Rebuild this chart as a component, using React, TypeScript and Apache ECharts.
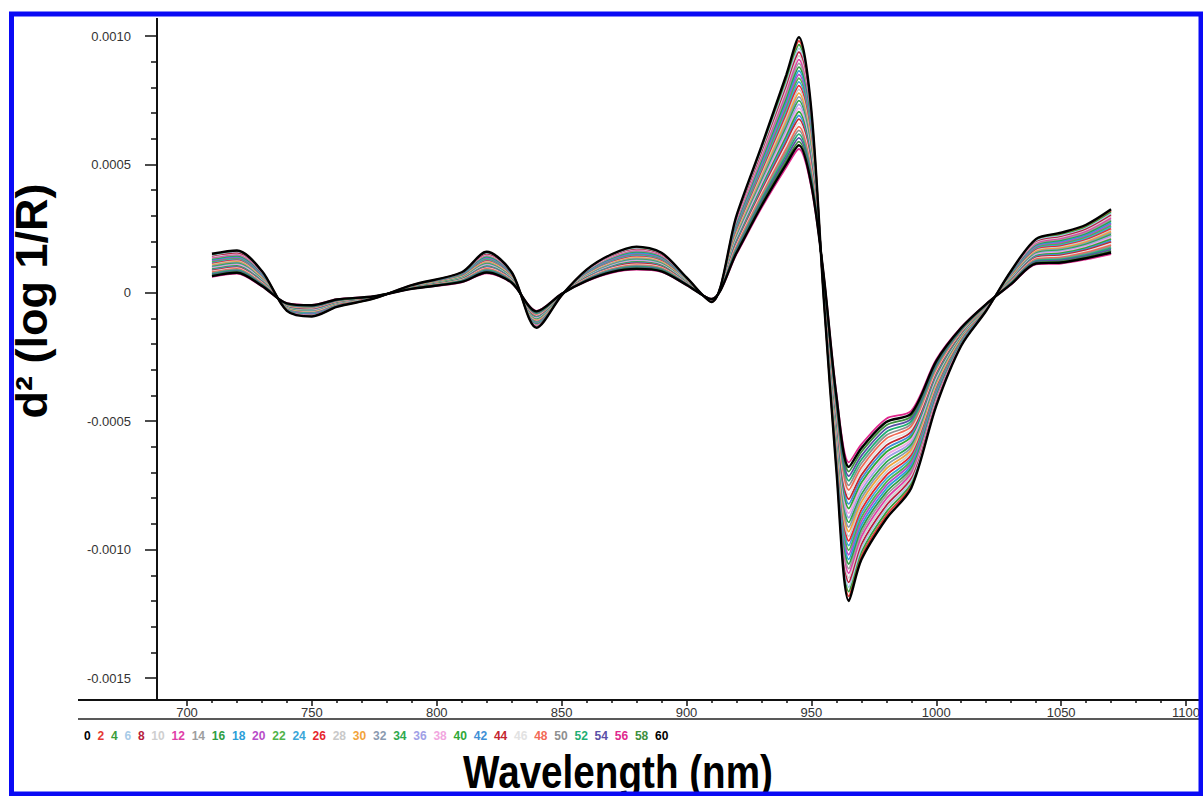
import React, { useEffect, useRef } from "react";
import * as echarts from "echarts";

// Wavelength grid (nm) shared by every spectrum
const wavelengths = [710, 720, 730, 740, 750, 760, 775, 790, 810, 820, 830, 840, 850, 860, 870, 880, 890, 900, 910, 920, 930, 940, 945, 950, 955, 960, 965, 970, 980, 990, 1000, 1010, 1020, 1030, 1040, 1050, 1060, 1070];

// Second-derivative spectra, in units of 1e-4 d²(log 1/R), one array per sampling time
const s0 = [1.52, 1.65, 0.85, -0.70, -0.92, -0.55, -0.22, 0.30, 0.80, 1.60, 0.80, -1.36, -0.10, 0.90, 1.50, 1.80, 1.56, 0.60, -0.36, 3.00, 5.70, 8.50, 9.95, 7.10, -0.30, -6.90, -12.00, -10.40, -8.80, -7.60, -4.40, -2.06, -0.70, 0.86, 2.10, 2.34, 2.65, 3.25];
const s2 = [1.49, 1.62, 0.83, -0.69, -0.905, -0.54, -0.217, 0.295, 0.787, 1.572, 0.786, -1.338, -0.098, 0.885, 1.476, 1.77, 1.535, 0.59, -0.356, 2.95, 5.62, 8.38, 9.805, 7.0, -0.268, -6.8, -11.82, -10.25, -8.67, -7.5, -4.34, -2.036, -0.691, 0.842, 2.067, 2.3, 2.605, 3.192];
const s4 = [1.46, 1.59, 0.81, -0.68, -0.89, -0.53, -0.214, 0.29, 0.774, 1.544, 0.772, -1.316, -0.096, 0.87, 1.452, 1.74, 1.51, 0.58, -0.352, 2.9, 5.54, 8.26, 9.66, 6.9, -0.236, -6.7, -11.64, -10.1, -8.54, -7.4, -4.28, -2.012, -0.682, 0.824, 2.034, 2.26, 2.56, 3.134];
const s6 = [1.43, 1.56, 0.79, -0.67, -0.875, -0.52, -0.211, 0.285, 0.761, 1.516, 0.758, -1.294, -0.094, 0.855, 1.428, 1.71, 1.485, 0.57, -0.348, 2.85, 5.46, 8.14, 9.515, 6.8, -0.204, -6.6, -11.46, -9.95, -8.41, -7.3, -4.22, -1.988, -0.673, 0.806, 2.001, 2.22, 2.515, 3.076];
const s8 = [1.40, 1.53, 0.77, -0.66, -0.86, -0.51, -0.208, 0.28, 0.748, 1.488, 0.744, -1.272, -0.092, 0.84, 1.404, 1.68, 1.46, 0.56, -0.344, 2.8, 5.38, 8.02, 9.37, 6.7, -0.172, -6.5, -11.28, -9.8, -8.28, -7.2, -4.16, -1.964, -0.664, 0.788, 1.968, 2.18, 2.47, 3.018];
const s10 = [1.37, 1.50, 0.75, -0.65, -0.845, -0.50, -0.205, 0.275, 0.735, 1.46, 0.73, -1.25, -0.09, 0.825, 1.38, 1.65, 1.435, 0.55, -0.34, 2.75, 5.3, 7.9, 9.225, 6.6, -0.14, -6.4, -11.1, -9.65, -8.15, -7.1, -4.1, -1.94, -0.655, 0.77, 1.935, 2.14, 2.425, 2.96];
const s12 = [1.34, 1.47, 0.73, -0.64, -0.83, -0.49, -0.202, 0.27, 0.722, 1.432, 0.716, -1.228, -0.088, 0.81, 1.356, 1.62, 1.41, 0.54, -0.336, 2.7, 5.22, 7.78, 9.08, 6.5, -0.108, -6.3, -10.92, -9.5, -8.02, -7.0, -4.04, -1.916, -0.646, 0.752, 1.902, 2.1, 2.38, 2.902];
const s14 = [1.31, 1.44, 0.71, -0.63, -0.815, -0.48, -0.199, 0.265, 0.709, 1.404, 0.702, -1.206, -0.086, 0.795, 1.332, 1.59, 1.385, 0.53, -0.332, 2.65, 5.14, 7.66, 8.935, 6.4, -0.076, -6.2, -10.74, -9.35, -7.89, -6.9, -3.98, -1.892, -0.637, 0.734, 1.869, 2.06, 2.335, 2.844];
const s16 = [1.28, 1.41, 0.69, -0.62, -0.80, -0.47, -0.196, 0.26, 0.696, 1.376, 0.688, -1.184, -0.084, 0.78, 1.308, 1.56, 1.36, 0.52, -0.328, 2.6, 5.06, 7.54, 8.79, 6.3, -0.044, -6.1, -10.56, -9.2, -7.76, -6.8, -3.92, -1.868, -0.628, 0.716, 1.836, 2.02, 2.29, 2.786];
const s18 = [1.25, 1.38, 0.67, -0.61, -0.785, -0.46, -0.193, 0.255, 0.683, 1.348, 0.674, -1.162, -0.082, 0.765, 1.284, 1.53, 1.335, 0.51, -0.324, 2.55, 4.98, 7.42, 8.645, 6.2, -0.012, -6.0, -10.38, -9.05, -7.63, -6.7, -3.86, -1.844, -0.619, 0.698, 1.803, 1.98, 2.245, 2.728];
const s20 = [1.22, 1.35, 0.65, -0.60, -0.77, -0.45, -0.19, 0.25, 0.67, 1.32, 0.66, -1.14, -0.08, 0.75, 1.26, 1.5, 1.31, 0.5, -0.32, 2.5, 4.9, 7.3, 8.5, 6.1, 0.02, -5.9, -10.2, -8.9, -7.5, -6.6, -3.8, -1.82, -0.61, 0.68, 1.77, 1.94, 2.2, 2.67];
const s22 = [1.19, 1.32, 0.63, -0.59, -0.755, -0.44, -0.187, 0.245, 0.657, 1.292, 0.646, -1.118, -0.078, 0.735, 1.236, 1.47, 1.285, 0.49, -0.316, 2.45, 4.82, 7.18, 8.355, 6.0, 0.052, -5.8, -10.02, -8.75, -7.37, -6.5, -3.74, -1.796, -0.601, 0.662, 1.737, 1.9, 2.155, 2.612];
const s24 = [1.16, 1.29, 0.61, -0.58, -0.74, -0.43, -0.184, 0.24, 0.644, 1.264, 0.632, -1.096, -0.076, 0.72, 1.212, 1.44, 1.26, 0.48, -0.312, 2.4, 4.74, 7.06, 8.21, 5.9, 0.084, -5.7, -9.84, -8.6, -7.24, -6.4, -3.68, -1.772, -0.592, 0.644, 1.704, 1.86, 2.11, 2.554];
const s26 = [1.13, 1.26, 0.59, -0.57, -0.725, -0.42, -0.181, 0.235, 0.631, 1.236, 0.618, -1.074, -0.074, 0.705, 1.188, 1.41, 1.235, 0.47, -0.308, 2.35, 4.66, 6.94, 8.065, 5.8, 0.116, -5.6, -9.66, -8.45, -7.11, -6.3, -3.62, -1.748, -0.583, 0.626, 1.671, 1.82, 2.065, 2.496];
const s28 = [1.10, 1.23, 0.57, -0.56, -0.71, -0.41, -0.178, 0.23, 0.618, 1.208, 0.604, -1.052, -0.072, 0.69, 1.164, 1.38, 1.21, 0.46, -0.304, 2.3, 4.58, 6.82, 7.92, 5.7, 0.148, -5.5, -9.48, -8.3, -6.98, -6.2, -3.56, -1.724, -0.574, 0.608, 1.638, 1.78, 2.02, 2.438];
const s30 = [1.07, 1.20, 0.55, -0.55, -0.695, -0.40, -0.175, 0.225, 0.605, 1.18, 0.59, -1.03, -0.07, 0.675, 1.14, 1.35, 1.185, 0.45, -0.30, 2.25, 4.5, 6.7, 7.775, 5.6, 0.18, -5.4, -9.3, -8.15, -6.85, -6.1, -3.5, -1.7, -0.565, 0.59, 1.605, 1.74, 1.975, 2.38];
const s32 = [1.04, 1.17, 0.53, -0.54, -0.68, -0.39, -0.172, 0.22, 0.592, 1.152, 0.576, -1.008, -0.068, 0.66, 1.116, 1.32, 1.16, 0.44, -0.296, 2.2, 4.42, 6.58, 7.63, 5.5, 0.212, -5.3, -9.12, -8.0, -6.72, -6.0, -3.44, -1.676, -0.556, 0.572, 1.572, 1.7, 1.93, 2.322];
const s34 = [1.01, 1.14, 0.51, -0.53, -0.665, -0.38, -0.169, 0.215, 0.579, 1.124, 0.562, -0.986, -0.066, 0.645, 1.092, 1.29, 1.135, 0.43, -0.292, 2.15, 4.34, 6.46, 7.485, 5.4, 0.244, -5.2, -8.94, -7.85, -6.59, -5.9, -3.38, -1.652, -0.547, 0.554, 1.539, 1.66, 1.885, 2.264];
const s36 = [0.98, 1.11, 0.49, -0.52, -0.65, -0.37, -0.166, 0.21, 0.566, 1.096, 0.548, -0.964, -0.064, 0.63, 1.068, 1.26, 1.11, 0.42, -0.288, 2.1, 4.26, 6.34, 7.34, 5.3, 0.276, -5.1, -8.76, -7.7, -6.46, -5.8, -3.32, -1.628, -0.538, 0.536, 1.506, 1.62, 1.84, 2.206];
const s38 = [0.95, 1.08, 0.47, -0.51, -0.635, -0.36, -0.163, 0.205, 0.553, 1.068, 0.534, -0.942, -0.062, 0.615, 1.044, 1.23, 1.085, 0.41, -0.284, 2.05, 4.18, 6.22, 7.195, 5.2, 0.308, -5.0, -8.58, -7.55, -6.33, -5.7, -3.26, -1.604, -0.529, 0.518, 1.473, 1.58, 1.795, 2.148];
const s40 = [0.92, 1.05, 0.45, -0.50, -0.62, -0.35, -0.16, 0.20, 0.54, 1.04, 0.52, -0.92, -0.06, 0.60, 1.02, 1.2, 1.06, 0.4, -0.28, 2.0, 4.1, 6.1, 7.05, 5.1, 0.34, -4.9, -8.4, -7.4, -6.2, -5.6, -3.2, -1.58, -0.52, 0.5, 1.44, 1.54, 1.75, 2.09];
const s42 = [0.89, 1.02, 0.43, -0.49, -0.605, -0.34, -0.157, 0.195, 0.527, 1.012, 0.506, -0.898, -0.058, 0.585, 0.996, 1.17, 1.035, 0.39, -0.276, 1.95, 4.02, 5.98, 6.905, 5.0, 0.372, -4.8, -8.22, -7.25, -6.07, -5.5, -3.14, -1.556, -0.511, 0.482, 1.407, 1.5, 1.705, 2.032];
const s44 = [0.86, 0.99, 0.41, -0.48, -0.59, -0.33, -0.154, 0.19, 0.514, 0.984, 0.492, -0.876, -0.056, 0.57, 0.972, 1.14, 1.01, 0.38, -0.272, 1.9, 3.94, 5.86, 6.76, 4.9, 0.404, -4.7, -8.04, -7.1, -5.94, -5.4, -3.08, -1.532, -0.502, 0.464, 1.374, 1.46, 1.66, 1.974];
const s46 = [0.83, 0.96, 0.39, -0.47, -0.575, -0.32, -0.151, 0.185, 0.501, 0.956, 0.478, -0.854, -0.054, 0.555, 0.948, 1.11, 0.985, 0.37, -0.268, 1.85, 3.86, 5.74, 6.615, 4.8, 0.436, -4.6, -7.86, -6.95, -5.81, -5.3, -3.02, -1.508, -0.493, 0.446, 1.341, 1.42, 1.615, 1.916];
const s48 = [0.80, 0.93, 0.37, -0.46, -0.56, -0.31, -0.148, 0.18, 0.488, 0.928, 0.464, -0.832, -0.052, 0.54, 0.924, 1.08, 0.96, 0.36, -0.264, 1.8, 3.78, 5.62, 6.47, 4.7, 0.468, -4.5, -7.68, -6.8, -5.68, -5.2, -2.96, -1.484, -0.484, 0.428, 1.308, 1.38, 1.57, 1.858];
const s50 = [0.77, 0.90, 0.35, -0.45, -0.545, -0.30, -0.145, 0.175, 0.475, 0.90, 0.45, -0.81, -0.05, 0.525, 0.90, 1.05, 0.935, 0.35, -0.26, 1.75, 3.7, 5.5, 6.325, 4.6, 0.5, -4.4, -7.5, -6.65, -5.55, -5.1, -2.9, -1.46, -0.475, 0.41, 1.275, 1.34, 1.525, 1.8];
const s52 = [0.74, 0.87, 0.33, -0.44, -0.53, -0.29, -0.142, 0.17, 0.462, 0.872, 0.436, -0.788, -0.048, 0.51, 0.876, 1.02, 0.91, 0.34, -0.256, 1.7, 3.62, 5.38, 6.18, 4.5, 0.532, -4.3, -7.32, -6.5, -5.42, -5.0, -2.84, -1.436, -0.466, 0.392, 1.242, 1.3, 1.48, 1.742];
const s54 = [0.71, 0.84, 0.31, -0.43, -0.515, -0.28, -0.139, 0.165, 0.449, 0.844, 0.422, -0.766, -0.046, 0.495, 0.852, 0.99, 0.885, 0.33, -0.252, 1.65, 3.54, 5.26, 6.035, 4.4, 0.564, -4.2, -7.14, -6.35, -5.29, -4.9, -2.78, -1.412, -0.457, 0.374, 1.209, 1.26, 1.435, 1.684];
const s56 = [0.62, 0.75, 0.25, -0.40, -0.47, -0.25, -0.13, 0.15, 0.41, 0.76, 0.38, -0.70, -0.04, 0.45, 0.78, 0.90, 0.81, 0.30, -0.24, 1.50, 3.30, 4.90, 5.60, 4.10, 0.66, -3.90, -6.60, -5.90, -4.90, -4.60, -2.60, -1.34, -0.43, 0.32, 1.11, 1.14, 1.30, 1.51];
const s58 = [0.68, 0.81, 0.29, -0.42, -0.50, -0.27, -0.136, 0.16, 0.436, 0.816, 0.408, -0.744, -0.044, 0.48, 0.828, 0.96, 0.86, 0.32, -0.248, 1.6, 3.46, 5.14, 5.89, 4.3, 0.596, -4.1, -6.96, -6.2, -5.16, -4.8, -2.72, -1.388, -0.448, 0.356, 1.176, 1.22, 1.39, 1.626];
const s60 = [0.65, 0.78, 0.27, -0.41, -0.485, -0.26, -0.133, 0.155, 0.423, 0.788, 0.394, -0.722, -0.042, 0.465, 0.804, 0.93, 0.835, 0.31, -0.244, 1.55, 3.38, 5.02, 5.745, 4.2, 0.628, -4.0, -6.78, -6.05, -5.03, -4.7, -2.66, -1.364, -0.439, 0.338, 1.143, 1.18, 1.345, 1.568];

const seriesNames = ["0", "2", "4", "6", "8", "10", "12", "14", "16", "18", "20", "22", "24", "26", "28", "30", "32", "34", "36", "38", "40", "42", "44", "46", "48", "50", "52", "54", "56", "58", "60"];
const spectra = [s0, s2, s4, s6, s8, s10, s12, s14, s16, s18, s20, s22, s24, s26, s28, s30, s32, s34, s36, s38, s40, s42, s44, s46, s48, s50, s52, s54, s56, s58, s60];
const seriesColors = [
  "#000000", "#e53935", "#3a9d3a", "#a8cbe8", "#b71c3c", "#cfcfcf", "#e040a8", "#9e9e9e",
  "#2e9e44", "#2b9ed8", "#b84cc8", "#4fb34a", "#3aa6d8", "#e6262e", "#c9c9c9", "#f2a33a",
  "#8a9ab0", "#2ea84e", "#a0a0e6", "#f2a6e0", "#2fa836", "#3f8fd6", "#c4262e", "#e2e2e2",
  "#f26a55", "#8f8f8f", "#1fae74", "#5a4fa6", "#e0288e", "#3c8f3c", "#000000",
];

// Axis settings (y values in 1e-4 units)
const xMin = 700;
const xMax = 1100;
const xStep = 50;
const yMin = -15;
const yMax = 10;
const yStep = 5;

const FONT = "'Liberation Sans', Arial, Helvetica, sans-serif";

function buildOption(): echarts.EChartsOption {
  const series = seriesNames.map((name, k) => {
    const black = seriesColors[k] === "#000000";
    return {
      name,
      type: "line" as const,
      data: wavelengths.map((w, j) => [w, spectra[k][j]]),
      showSymbol: false,
      symbol: "none",
      smooth: 0.3,
      clip: false,
      silent: true,
      z: black ? 4 : 2,
      lineStyle: { color: seriesColors[k], width: black ? 2.4 : 1.8 },
      itemStyle: { color: seriesColors[k] },
    };
  });

  const axisColor = "#111";

  return {
    animation: false,
    backgroundColor: "#ffffff",
    grid: { left: 187, right: 17, top: 36, bottom: 118, containLabel: false },
    legend: {
      left: 74,
      top: 724,
      orient: "horizontal",
      icon: "none",
      itemWidth: 0,
      itemHeight: 14,
      itemGap: 1.8,
      selectedMode: false,
      textStyle: { fontFamily: FONT, fontSize: 12, fontWeight: "bold" },
      data: seriesNames.map((name, k) => ({
        name,
        textStyle: { color: seriesColors[k], fontFamily: FONT, fontSize: 12, fontWeight: "bold" },
      })),
    },
    xAxis: {
      type: "value",
      min: xMin,
      max: xMax,
      interval: xStep,
      offset: 22,
      axisLine: { show: true, onZero: false, lineStyle: { color: axisColor, width: 2 } },
      axisTick: { show: true, inside: false, length: 6, lineStyle: { color: axisColor, width: 1.5 } },
      minorTick: { show: true, splitNumber: 5, length: 3, lineStyle: { color: axisColor, width: 1.5 } },
      axisLabel: {
        color: "#333",
        fontSize: 13,
        fontFamily: FONT,
        margin: 6,
        formatter: (v: number) => String(v),
      },
      splitLine: { show: false },
    },
    yAxis: {
      type: "value",
      min: yMin,
      max: yMax,
      interval: yStep,
      offset: 30,
      axisLine: { show: true, onZero: false, lineStyle: { color: axisColor, width: 2 } },
      axisTick: { show: true, inside: false, length: 12, lineStyle: { color: axisColor, width: 1.5 } },
      minorTick: { show: true, splitNumber: 5, length: 6, lineStyle: { color: axisColor, width: 1.5 } },
      axisLabel: {
        color: "#333",
        fontSize: 13,
        fontFamily: FONT,
        margin: 26,
        formatter: (v: number) => (v === 0 ? "0" : (v / 10000).toFixed(4)),
      },
      splitLine: { show: false },
    },
    graphic: [
      // axis lines continue past the tick range
      { type: "line", shape: { x1: 78, y1: 700, x2: 188, y2: 700 }, style: { stroke: axisColor, lineWidth: 2 }, z: 10 },
      { type: "line", shape: { x1: 1185, y1: 700, x2: 1203, y2: 700 }, style: { stroke: axisColor, lineWidth: 2 }, z: 10 },
      { type: "line", shape: { x1: 157, y1: 18, x2: 157, y2: 37 }, style: { stroke: axisColor, lineWidth: 2 }, z: 10 },
      { type: "line", shape: { x1: 157, y1: 677, x2: 157, y2: 700 }, style: { stroke: axisColor, lineWidth: 2 }, z: 10 },
      // rule under the tick labels
      { type: "line", shape: { x1: 78, y1: 719, x2: 1203, y2: 719 }, style: { stroke: "#222", lineWidth: 1.5 }, z: 10 },
      {
        type: "text",
        x: 31,
        y: 301,
        rotation: Math.PI / 2,
        style: {
          text: "d² (log 1/R)",
          font: `bold 45px ${FONT}`,
          fill: "#000",
          align: "center",
          verticalAlign: "middle",
        },
        z: 10,
      },
      {
        type: "text",
        x: 618,
        y: 772,
        scaleX: 0.84,
        style: {
          text: "Wavelength (nm)",
          font: `bold 46px ${FONT}`,
          fill: "#000",
          align: "center",
          verticalAlign: "middle",
        },
        z: 10,
      },
      // blue frame
      {
        type: "rect",
        shape: { x: 11.5, y: 14, width: 1189.5, height: 780 },
        style: { fill: "none", stroke: "#0a0af5", lineWidth: 5 },
        z: 100,
      },
    ],
    series,
  } as echarts.EChartsOption;
}

export default function App() {
  const ref = useRef<HTMLDivElement>(null);
  useEffect(() => {
    if (!ref.current) return;
    const chart = echarts.init(ref.current, undefined, { renderer: "svg" });
    chart.setOption(buildOption());
    return () => chart.dispose();
  }, []);
  return (
    <div
      ref={ref}
      style={{ position: "absolute", left: 0, top: 0, width: 1203, height: 796, background: "#fff" }}
    />
  );
}
